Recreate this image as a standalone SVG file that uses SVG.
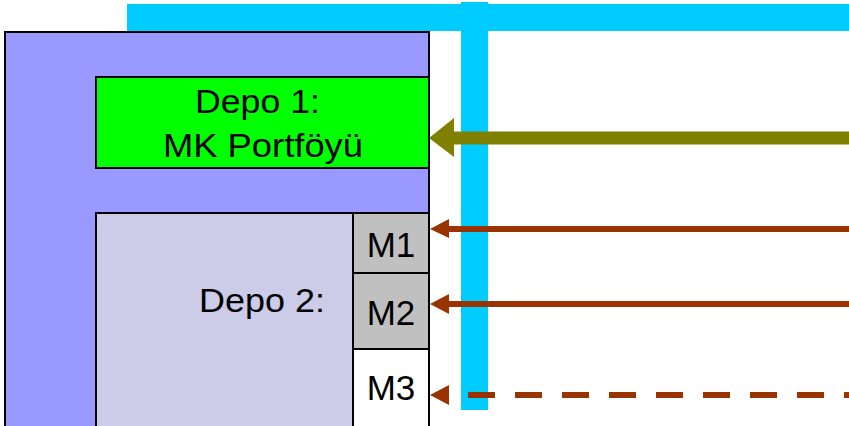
<svg xmlns="http://www.w3.org/2000/svg" width="849" height="426" viewBox="0 0 849 426">
<style>
.t{font-family:"Liberation Sans",Arial,sans-serif;font-size:33px;fill:#000}
.m{font-size:35px}
.box{stroke:#000;stroke-width:2}
.br{stroke:#993300;stroke-width:6;fill:none}
</style>
<rect width="849" height="426" fill="#fff"/>
<g id="bus">
<rect x="127" y="4" width="722" height="27" fill="#00CCFF"/>
<rect x="461" y="2" width="27" height="408" fill="#00CCFF"/>
</g>
<g id="outer">
<rect class="box" x="5" y="32" width="424" height="400" fill="#9999FF"/>
</g>
<g id="depo1">
<rect class="box" x="96" y="77" width="333" height="91" fill="#00FF00"/>
<text class="t" x="195" y="113" textLength="125" lengthAdjust="spacingAndGlyphs">Depo 1:</text>
<text class="t" x="163" y="157" textLength="200" lengthAdjust="spacingAndGlyphs">MK Portföyü</text>
</g>
<g id="depo2">
<rect class="box" x="96" y="213" width="257" height="220" fill="#CCCCE8"/>
<text class="t" x="199" y="312" font-size="35" textLength="126" lengthAdjust="spacingAndGlyphs">Depo 2:</text>
</g>
<g id="m1">
<rect class="box" x="353" y="213" width="76" height="60" fill="#C0C0C0"/>
<text class="t m" x="391" y="257" text-anchor="middle">M1</text>
</g>
<g id="m2">
<rect class="box" x="353" y="273" width="76" height="76" fill="#C0C0C0"/>
<text class="t m" x="391" y="325" text-anchor="middle">M2</text>
</g>
<g id="m3">
<rect class="box" x="353" y="349" width="76" height="84" fill="#FFFFFF"/>
<text class="t m" x="391" y="400" text-anchor="middle">M3</text>
</g>
<g id="connectors">
<line x1="452" y1="138" x2="849" y2="138" stroke="#808000" stroke-width="13"/>
<polygon points="429,138 454,118 454,157" fill="#808000"/>
<line class="br" x1="447" y1="229" x2="849" y2="229"/>
<polygon points="430,229 449,219 449,238" fill="#993300"/>
<line class="br" x1="447" y1="304" x2="849" y2="304"/>
<polygon points="430,304 449,294 449,314" fill="#993300"/>
<line class="br" x1="468" y1="395" x2="849" y2="395" stroke-dasharray="27 20"/>
<polygon points="430,395 449,385 449,405" fill="#993300"/>
</g>
</svg>
